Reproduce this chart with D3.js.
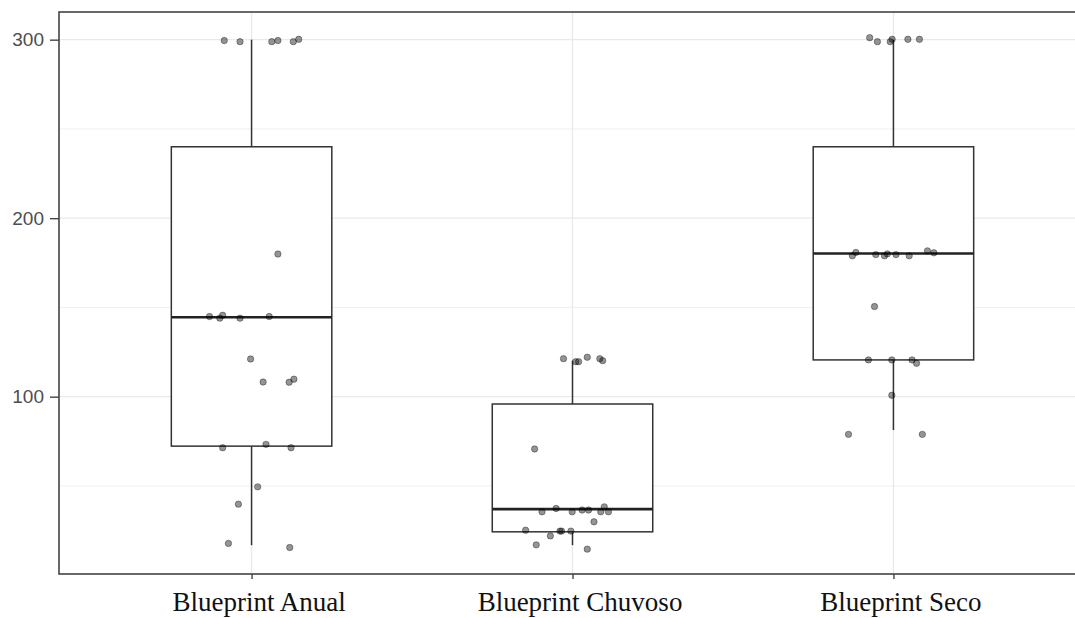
<!DOCTYPE html>
<html>
<head>
<meta charset="utf-8">
<script src="https://cdn.jsdelivr.net/npm/d3@7/dist/d3.min.js"></script>
<style>
  html, body { margin: 0; padding: 0; background: #fff; overflow: hidden; }
  svg { display: block; }
</style>
</head>
<body>
<svg id="chart" width="1075" height="618"></svg>
<script>
// ---------- data ----------
const categories = ["Blueprint Anual", "Blueprint Chuvoso", "Blueprint Seco"];
const yTicks = [100, 200, 300];
const yMinorTicks = [50, 150, 250];

// box statistics per category: lower whisker, Q1, median, Q3, upper whisker
const boxLower  = [16.8, 16.8, 81.3];
const boxQ1     = [72.3, 24.3, 120.6];
const boxMedian = [144.5, 37.0, 180.2];
const boxQ3     = [240.0, 95.9, 240.0];
const boxUpper  = [300.0, 120.2, 300.0];

// jittered observations: values and horizontal jitter (fraction of category step)
const anualValues  = [299.5, 298.9, 298.9, 299.5, 298.9, 300.2, 179.9, 144.9, 144.0, 145.6, 144.0, 144.9,
                      121.1, 108.2, 108.1, 109.8, 71.4, 73.3, 71.4, 49.5, 39.8, 17.8, 15.5];
const anualJitter  = [-0.085, -0.036, 0.063, 0.082, 0.130, 0.147, 0.082, -0.131, -0.099, -0.090, -0.036, 0.055,
                      -0.003, 0.036, 0.117, 0.132, -0.090, 0.045, 0.123, 0.019, -0.041, -0.072, 0.119];
const chuvosoValues = [121.3, 119.6, 119.6, 122.1, 121.3, 120.2, 70.7, 35.5, 37.4, 35.5, 36.5, 36.5,
                       35.5, 38.3, 35.5, 29.9, 25.2, 22.0, 24.7, 24.7, 24.7, 17.0, 14.6];
const chuvosoJitter = [-0.028, 0.010, 0.019, 0.046, 0.085, 0.094, -0.118, -0.095, -0.051, -0.001, 0.030, 0.050,
                       0.088, 0.099, 0.112, 0.067, -0.146, -0.069, -0.039, -0.034, -0.005, -0.113, 0.046];
const secoValues  = [301.1, 298.9, 298.9, 300.2, 300.2, 300.2, 178.9, 180.8, 179.6, 178.9, 180.0, 179.6,
                     178.9, 181.7, 180.6, 150.5, 120.6, 120.6, 120.6, 118.7, 100.8, 78.9, 78.9];
const secoJitter  = [-0.074, -0.050, -0.010, -0.004, 0.045, 0.081, -0.128, -0.117, -0.055, -0.028, -0.019, 0.008,
                     0.049, 0.106, 0.126, -0.059, -0.078, -0.005, 0.058, 0.072, -0.005, -0.140, 0.090];

// ---------- layout ----------
const panel = { left: 59, top: 12, right: 1086, bottom: 574 };
const svg = d3.select("#chart");

const x = d3.scalePoint().domain(categories).range([panel.left, panel.right]).padding(0.6);
const y = d3.scaleLinear().domain([0.67, 315.5]).range([panel.bottom, panel.top]);
const step = x.step();
const boxW = step * 0.5;

const boxes = categories.map((c, i) => ({
  cat: c, lower: boxLower[i], q1: boxQ1[i], median: boxMedian[i], q3: boxQ3[i], upper: boxUpper[i]
}));
const groups = [
  { cat: categories[0], values: anualValues, jitter: anualJitter },
  { cat: categories[1], values: chuvosoValues, jitter: chuvosoJitter },
  { cat: categories[2], values: secoValues, jitter: secoJitter }
];
const points = groups.flatMap(g => g.values.map((v, i) => ({ cat: g.cat, v, j: g.jitter[i] })));

// panel background
svg.append("rect")
  .attr("x", panel.left).attr("y", panel.top)
  .attr("width", panel.right - panel.left).attr("height", panel.bottom - panel.top)
  .attr("fill", "#fff");

// grid
const grid = svg.append("g");
grid.selectAll("line.minor").data(yMinorTicks).join("line")
  .attr("x1", panel.left).attr("x2", panel.right)
  .attr("y1", d => y(d)).attr("y2", d => y(d))
  .attr("stroke", "#f0f0f0").attr("stroke-width", 1);
grid.selectAll("line.majory").data(yTicks).join("line")
  .attr("x1", panel.left).attr("x2", panel.right)
  .attr("y1", d => y(d)).attr("y2", d => y(d))
  .attr("stroke", "#e9e9e9").attr("stroke-width", 1.3);
grid.selectAll("line.majorx").data(categories).join("line")
  .attr("x1", d => x(d)).attr("x2", d => x(d))
  .attr("y1", panel.top).attr("y2", panel.bottom)
  .attr("stroke", "#e9e9e9").attr("stroke-width", 1.3);

// boxplots
const bx = svg.append("g");
const bg = bx.selectAll("g").data(boxes).join("g");
bg.append("line")
  .attr("x1", d => x(d.cat)).attr("x2", d => x(d.cat))
  .attr("y1", d => y(d.upper)).attr("y2", d => y(d.q3))
  .attr("stroke", "#333").attr("stroke-width", 1.5);
bg.append("line")
  .attr("x1", d => x(d.cat)).attr("x2", d => x(d.cat))
  .attr("y1", d => y(d.q1)).attr("y2", d => y(d.lower))
  .attr("stroke", "#333").attr("stroke-width", 1.5);
bg.append("rect")
  .attr("x", d => x(d.cat) - boxW / 2).attr("width", boxW)
  .attr("y", d => y(d.q3)).attr("height", d => y(d.q1) - y(d.q3))
  .attr("fill", "#fff").attr("stroke", "#333").attr("stroke-width", 1.5);
bg.append("line")
  .attr("x1", d => x(d.cat) - boxW / 2).attr("x2", d => x(d.cat) + boxW / 2)
  .attr("y1", d => y(d.median)).attr("y2", d => y(d.median))
  .attr("stroke", "#222").attr("stroke-width", 2.6);

// points
svg.append("g").selectAll("circle").data(points).join("circle")
  .attr("cx", d => x(d.cat) + d.j * step)
  .attr("cy", d => y(d.v))
  .attr("r", 3.2)
  .attr("fill", "rgba(0,0,0,0.42)")
  .attr("stroke", "rgba(0,0,0,0.35)")
  .attr("stroke-width", 1);

// panel border
svg.append("rect")
  .attr("x", panel.left).attr("y", panel.top)
  .attr("width", panel.right - panel.left).attr("height", panel.bottom - panel.top)
  .attr("fill", "none").attr("stroke", "#444").attr("stroke-width", 1.6);

// y axis
const yAxis = d3.axisLeft(y).tickValues(yTicks).tickSize(9).tickPadding(6).tickFormat(d3.format("d"));
const ya = svg.append("g").attr("transform", `translate(${panel.left},0)`).call(yAxis);
ya.select(".domain").remove();
ya.selectAll(".tick line").attr("stroke", "#444").attr("stroke-width", 1.4);
ya.selectAll(".tick text")
  .attr("fill", "#4d4d4d")
  .style("font-family", "'Liberation Sans', Arial, sans-serif")
  .style("font-size", "19px");

// x axis
const xAxis = d3.axisBottom(x).tickSize(5).tickPadding(0);
const xa = svg.append("g").attr("transform", `translate(0,${panel.bottom})`).call(xAxis);
xa.select(".domain").remove();
xa.selectAll(".tick line").attr("stroke", "#444").attr("stroke-width", 1.4);
xa.selectAll(".tick text")
  .attr("fill", "#111")
  .attr("dy", null)
  .attr("dx", 7)
  .attr("y", 36.5)
  .style("font-family", "'Liberation Serif', 'Times New Roman', serif")
  .style("font-size", "27px");
</script>
</body>
</html>
